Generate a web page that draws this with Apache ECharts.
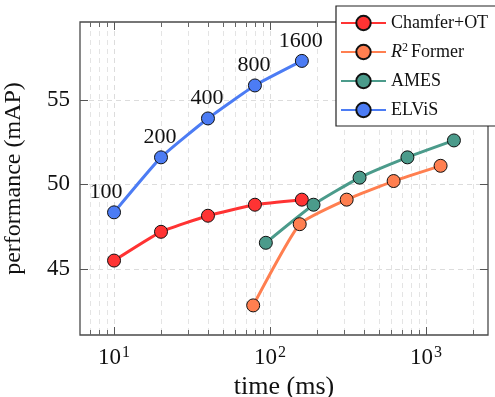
<!DOCTYPE html>
<html>
<head>
<meta charset="utf-8">
<script src="https://cdn.jsdelivr.net/npm/echarts@6/dist/echarts.min.js"></script>
<style>
html,body{margin:0;padding:0;background:#fff;}
#chart{width:495px;height:397px;}
</style>
</head>
<body>
<div id="chart"></div>
<script>
// ---- data ----
const seriesNames = ['Chamfer+OT', 'R2Former', 'AMES', 'ELViS'];
const chamferX = [10, 20, 40, 80, 160];
const chamferY = [45.5, 47.2, 48.15, 48.8, 49.1];
const r2formerX = [78, 155, 310, 620, 1240];
const r2formerY = [42.85, 47.65, 49.1, 50.2, 51.1];
const amesX = [94, 190, 375, 760, 1510];
const amesY = [46.55, 48.8, 50.4, 51.6, 52.6];
const elvisX = [10, 20, 40, 80, 160];
const elvisY = [48.35, 51.6, 53.9, 55.85, 57.3];
const elvisLabels = ['100', '200', '400', '800', '1600'];
const xMajorTicks = [10, 100, 1000];
const xMinorTicks = [7, 8, 9, 20, 30, 40, 50, 60, 70, 80, 90, 200, 300, 400, 500, 600, 700, 800, 900, 2000];
const yTicks = [45, 50, 55];
const xRange = [6.05, 2497];
const yRange = [41.1, 59.6];

const colors = ['#ff3333', '#ff7f50', '#4b9b8b', '#4c7cf4'];
const serif = 'Liberation Serif';

function pairs(xs, ys) { return xs.map((x, i) => [x, ys[i]]); }

const chart = echarts.init(document.getElementById('chart'), null, {renderer: 'canvas'});

const gridDef = {left: 80, right: 7, top: 22, bottom: 62, show: true, borderColor: '#4a4a4a', borderWidth: 1.3,
  backgroundColor: 'transparent', containLabel: false, outerBoundsMode: 'none'};

function xAxisBase(extra) {
  return Object.assign({
    type: 'log', logBase: 10, min: xRange[0], max: xRange[1],
    axisLine: {show: false},
    axisLabel: {show: false},
    splitLine: {show: false},
    minorTick: {show: false},
    minorSplitLine: {show: false}
  }, extra);
}

const xAxes = [
  xAxisBase({
    position: 'bottom',
    name: 'time (ms)', nameLocation: 'middle', nameGap: 32,
    nameTextStyle: {fontFamily: serif, fontSize: 26, color: '#111'},
    axisTick: {show: true, inside: true, length: 8, customValues: xMajorTicks, lineStyle: {color: '#555', width: 1}},
    axisLabel: {show: true, customValues: xMajorTicks, margin: 10,
      formatter: function (v) { return '{b|10}{s|' + Math.round(Math.log10(v)) + '}'; },
      rich: {b: {fontFamily: serif, fontSize: 23, color: '#111'}, s: {fontFamily: serif, fontSize: 16, color: '#111', verticalAlign: 'top', padding: [0, 0, 10, 1]}}
    },
    splitLine: {show: true, lineStyle: {color: '#dcdcdc', type: [5, 4], width: 1}}
  }),
  xAxisBase({
    position: 'bottom',
    axisTick: {show: true, inside: true, length: 5, customValues: xMinorTicks, lineStyle: {color: '#666', width: 1}},
    splitLine: {show: true, lineStyle: {color: '#e4e4e4', type: [5, 4], width: 1}}
  }),
  xAxisBase({
    position: 'top',
    axisTick: {show: true, inside: true, length: 8, customValues: xMajorTicks, lineStyle: {color: '#555', width: 1}}
  }),
  xAxisBase({
    position: 'top',
    axisTick: {show: true, inside: true, length: 5, customValues: xMinorTicks, lineStyle: {color: '#666', width: 1}}
  })
];

const yAxes = [
  {
    type: 'value', position: 'left', min: yRange[0], max: yRange[1],
    name: 'performance (mAP)', nameLocation: 'middle', nameGap: 54,
    nameTextStyle: {fontFamily: serif, fontSize: 24, color: '#111'},
    axisLine: {show: false},
    axisTick: {show: true, inside: true, length: 8, customValues: yTicks, lineStyle: {color: '#555'}},
    axisLabel: {show: true, customValues: yTicks, margin: 10, fontFamily: serif, fontSize: 23, color: '#111'},
    splitLine: {show: true, lineStyle: {color: '#dcdcdc', type: [5, 4], width: 1}}
  },
  {
    type: 'value', position: 'right', min: yRange[0], max: yRange[1],
    axisLine: {show: false},
    axisTick: {show: true, inside: true, length: 8, customValues: yTicks, lineStyle: {color: '#555'}},
    axisLabel: {show: false},
    splitLine: {show: false}
  }
];

function lineSeries(name, data, color, extra) {
  return Object.assign({
    name: name, type: 'line', data: data,
    xAxisIndex: 0, yAxisIndex: 0,
    smooth: 0.15,
    symbol: 'circle', symbolSize: 13,
    lineStyle: {color: color, width: 3},
    itemStyle: {color: color, borderColor: '#111', borderWidth: 1},
    emphasis: {disabled: true},
    animation: false
  }, extra || {});
}

const elvisData = pairs(elvisX, elvisY).map((p, i) => ({
  value: p,
  label: {show: true, formatter: elvisLabels[i], offset: i === 0 ? [-8, 0] : [-1, 0]}
}));

const option = {
  backgroundColor: '#fff',
  animation: false,
  grid: gridDef,
  xAxis: xAxes,
  yAxis: yAxes,
  legend: {
    orient: 'vertical', left: 336, top: 6,
    backgroundColor: '#fff', borderColor: '#222', borderWidth: 1.2, borderRadius: 0,
    padding: [7, 8, 6, 4],
    itemWidth: 45, itemHeight: 18, itemGap: 9,
    data: seriesNames,
    textStyle: {fontFamily: serif, fontSize: 18, color: '#111', lineHeight: 20,
      rich: {i: {fontFamily: serif, fontStyle: 'italic', fontSize: 18, color: '#111'}, s: {fontFamily: serif, fontSize: 12, color: '#111', verticalAlign: 'top', padding: [0, 3, 8, 0]}, n: {fontFamily: serif, fontSize: 18, color: '#111'}}
    },
    formatter: function (name) { return name === 'R2Former' ? '{i|R}{s|2}{n|Former}' : name; }
  },
  series: [
    lineSeries(seriesNames[0], pairs(chamferX, chamferY), colors[0]),
    lineSeries(seriesNames[1], pairs(r2formerX, r2formerY), colors[1]),
    lineSeries(seriesNames[2], pairs(amesX, amesY), colors[2]),
    lineSeries(seriesNames[3], elvisData, colors[3], {
      label: {show: true, position: 'top', distance: 2, fontFamily: serif, fontSize: 22, color: '#111'}
    })
  ]
};

chart.setOption(option);
</script>
</body>
</html>
